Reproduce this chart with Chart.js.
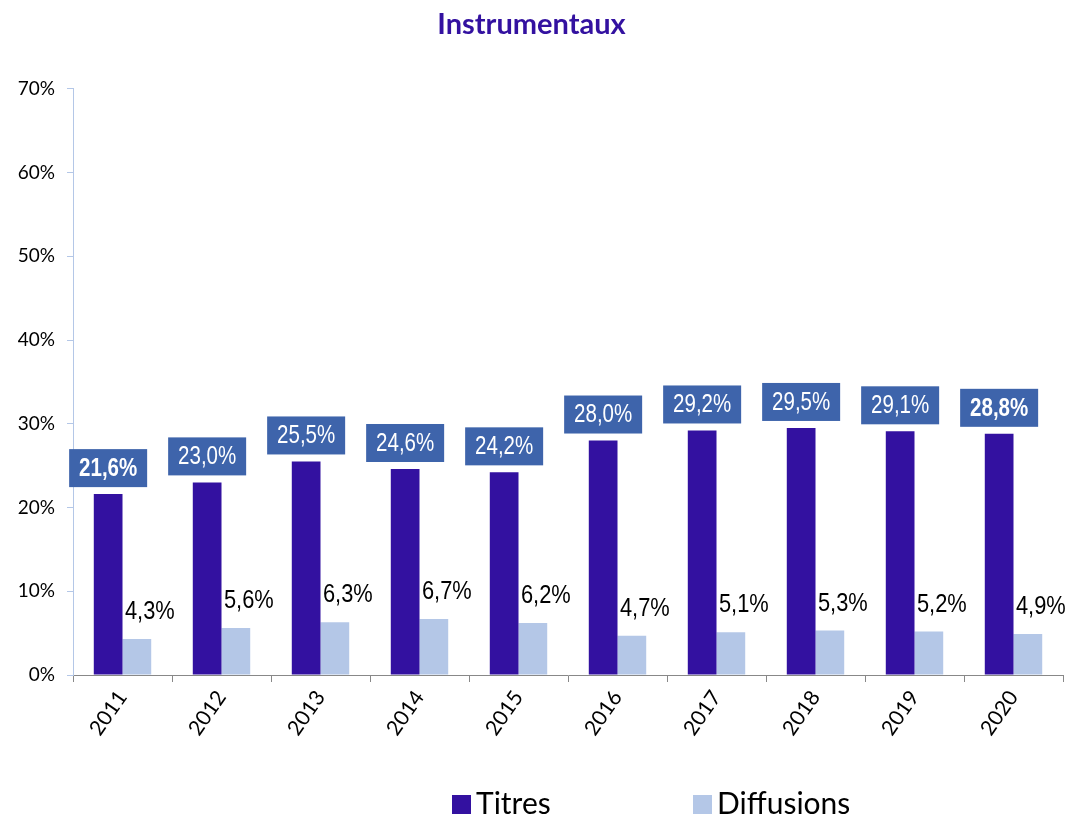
<!DOCTYPE html>
<html>
<head>
<meta charset="utf-8">
<script src="https://cdn.jsdelivr.net/npm/chart.js@4.4.1/dist/chart.umd.min.js"></script>
<style>
    body { margin: 0; background: #fff; }
    #wrap { width: 1076px; height: 815px; }
</style>
</head>
<body>
<div id="wrap"><canvas id="graphique"></canvas></div>
<script>
    // Données
    const annees = ["2011", "2012", "2013", "2014", "2015", "2016", "2017", "2018", "2019", "2020"];
    const titres = [21.6, 23.0, 25.5, 24.6, 24.2, 28.0, 29.2, 29.5, 29.1, 28.8];
    const diffusions = [4.3, 5.6, 6.3, 6.7, 6.2, 4.7, 5.1, 5.3, 5.2, 4.9];

    // Styles
    const violet = "#3311A0";
    const bleuClair = "#B4C7E7";
    const bleuBoite = "#3E64AB";
    const etiquettesGras = [0, 9];
    const policeEtiq = '"Liberation Sans", Arial, sans-serif';

    function fmt(v) {
        return v.toFixed(1).replace(".", ",") + "%";
    }

    // texte un peu condensé (pas d'Arial Narrow dispo)
    function texteEtroit(ctx, txt, x, y, sx) {
        ctx.save();
        ctx.translate(x, y);
        ctx.scale(sx, 1);
        ctx.fillText(txt, 0, 0);
        ctx.restore();
    }

    // Etiquettes des barres
    const etiquettes = {
        id: "etiquettes",
        afterDatasetsDraw(chart) {
            const ctx = chart.ctx;
            ctx.save();
            ctx.textAlign = "center";
            ctx.textBaseline = "middle";

            chart.getDatasetMeta(0).data.forEach(function (bar, i) {
                const w = 78, h = 38;
                const x = bar.x - w / 2;
                const y = bar.y - 7 - h;
                ctx.fillStyle = bleuBoite;
                ctx.fillRect(x, y, w, h);
                ctx.fillStyle = "#fff";
                ctx.font = (etiquettesGras.includes(i) ? "bold " : "") + "25px " + policeEtiq;
                texteEtroit(ctx, fmt(titres[i]), bar.x, y + h / 2 + 1, 0.82);
            });

            chart.getDatasetMeta(1).data.forEach(function (bar, i) {
                ctx.fillStyle = "#000";
                ctx.font = "26px " + policeEtiq;
                texteEtroit(ctx, fmt(diffusions[i]), bar.x + 13, bar.y - 27, 0.84);
            });
            ctx.restore();
        }
    };

    // Légende en bas
    const legende = {
        id: "legende",
        afterDraw(chart) {
            const ctx = chart.ctx;
            const items = [
                { x: 452, label: chart.data.datasets[0].label, color: violet },
                { x: 693, label: chart.data.datasets[1].label, color: bleuClair }
            ];
            ctx.save();
            ctx.font = "30px Lato, sans-serif";
            ctx.textBaseline = "middle";
            ctx.textAlign = "left";
            items.forEach(function (it) {
                ctx.fillStyle = it.color;
                ctx.fillRect(it.x, 795, 19, 19);
                ctx.fillStyle = "#000";
                ctx.fillText(it.label, it.x + 24, 804);
            });
            ctx.restore();
        }
    };

    var ctx1 = document.getElementById("graphique").getContext("2d");
    var graphique = new Chart(ctx1, {
        type: "bar",
        data: {
            labels: annees,
            datasets: [{
                    label: "Titres",
                    data: titres,
                    backgroundColor: violet
                },
                {
                    label: "Diffusions",
                    data: diffusions,
                    backgroundColor: bleuClair
                }
            ]
        },
        options: {
            responsive: true,
            maintainAspectRatio: false,
            animation: false,
            categoryPercentage: 0.58,
            barPercentage: 1,
            layout: {
                padding: { left: 0, right: 13, top: 0, bottom: 60 }
            },
            plugins: {
                legend: { display: false },
                tooltip: { enabled: false },
                title: {
                    display: true,
                    text: "Instrumentaux",
                    color: violet,
                    font: { family: "Lato, sans-serif", size: 29, weight: "bold" },
                    padding: { top: 7, bottom: 47 }
                }
            },
            scales: {
                x: {
                    afterFit: function (scale) { scale.height = 80; },
                    border: { color: "#888" },
                    grid: {
                        drawOnChartArea: false,
                        drawTicks: true,
                        tickLength: 7,
                        color: "#888"
                    },
                    ticks: {
                        color: "#000",
                        font: { family: "Lato, sans-serif", size: 21 },
                        minRotation: 55,
                        maxRotation: 55,
                        padding: 4
                    }
                },
                y: {
                    min: 0,
                    max: 70,
                    afterFit: function (scale) { scale.width = 73; },
                    border: { color: bleuClair },
                    grid: {
                        drawOnChartArea: false,
                        tickLength: 6,
                        color: bleuClair
                    },
                    ticks: {
                        stepSize: 10,
                        color: "#000",
                        padding: 12,
                        font: { family: "Lato, sans-serif", size: 19 },
                        callback: function (v) { return v + "%"; }
                    }
                }
            }
        },
        plugins: [etiquettes, legende]
    });
</script>
</body>
</html>
